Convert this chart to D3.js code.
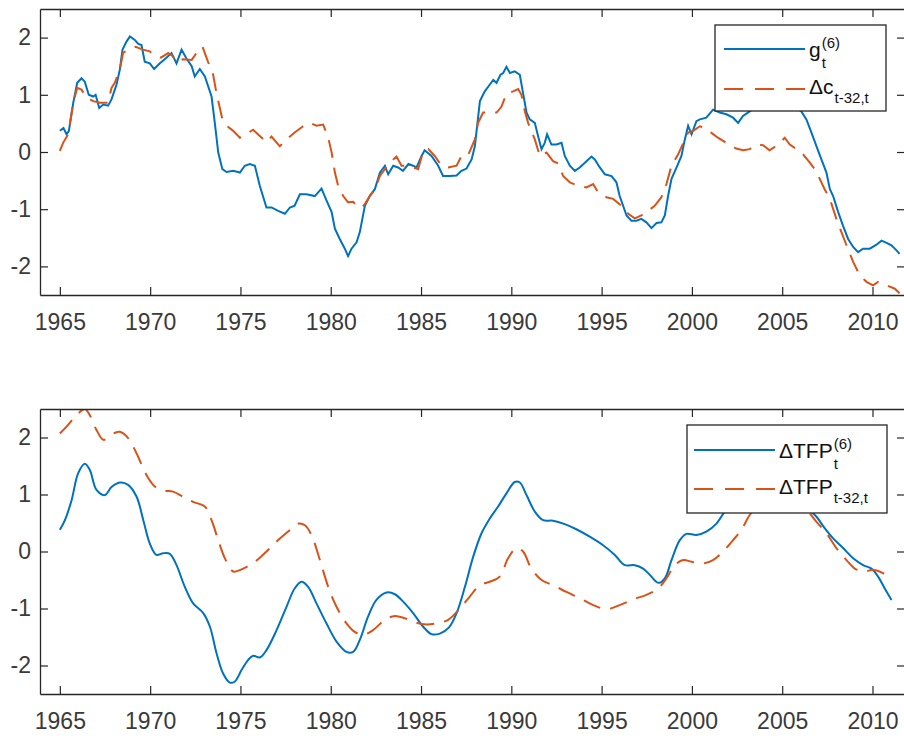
<!DOCTYPE html>
<html>
<head>
<meta charset="utf-8">
<script src="https://cdn.jsdelivr.net/npm/d3@7"></script>
<style>
  body { margin: 0; background: #fff; }
  svg { display: block; font-family: "Liberation Sans", Arial, sans-serif; }
</style>
</head>
<body>
<div id="chart"></div>
<script>
// x ticks (years) and y ticks, shared by both panels
const yearTicks = [1965, 1970, 1975, 1980, 1985, 1990, 1995, 2000, 2005, 2010];
const valueTicks = [-2, -1, 0, 1, 2];

// top panel: g_t^(6) (solid blue)
const gYears = [1965.0,1965.2,1965.37,1965.5,1965.74,1965.96,1966.2,1966.38,1966.6,1966.85,1966.98,1967.18,1967.4,1967.67,1967.86,
  1968.14,1968.32,1968.47,1968.69,1968.88,1969.15,1969.34,1969.52,1969.7,1969.98,1970.22,1970.54,1970.87,1971.18,1971.46,1971.74,
  1972.0,1972.3,1972.47,1972.75,1973.03,1973.4,1973.58,1973.77,1974.0,1974.23,1974.6,1974.97,1975.24,1975.52,1975.8,1976.07,
  1976.44,1976.72,1977.09,1977.46,1977.74,1978.0,1978.29,1978.66,1979.12,1979.49,1979.77,1980.05,1980.23,1980.5,1980.78,1980.96,
  1981.15,1981.43,1981.61,1981.89,1982.16,1982.44,1982.72,1983.0,1983.18,1983.46,1983.73,1984.0,1984.3,1984.56,1984.75,1985.03,
  1985.2,1985.58,1985.95,1986.22,1986.6,1986.97,1987.24,1987.52,1987.8,1987.98,1988.26,1988.53,1988.81,1989.0,1989.18,1989.4,
  1989.55,1989.73,1989.92,1990.19,1990.47,1990.65,1990.84,1991.02,1991.3,1991.48,1991.67,1991.85,1991.98,1992.22,1992.5,1992.78,
  1992.96,1993.24,1993.52,1993.79,1994.16,1994.44,1994.62,1994.9,1995.18,1995.55,1995.82,1996.0,1996.19,1996.38,1996.65,1996.93,
  1997.2,1997.48,1997.76,1998.04,1998.31,1998.5,1998.68,1998.87,1999.15,1999.42,1999.61,1999.79,1999.98,2000.25,2000.44,2000.8,
  2001.17,2001.54,2001.91,2002.28,2002.56,2002.83,2003.2,2003.7,2004.3,2005.0,2005.6,2006.06,2006.34,2006.62,2006.9,2007.17,
  2007.45,2007.64,2007.82,2008.1,2008.37,2008.65,2008.93,2009.2,2009.48,2009.85,2010.22,2010.5,2010.78,2011.05,2011.33,2011.5];
const gVals = [0.37,0.42,0.31,0.37,0.86,1.21,1.29,1.23,1.0,0.97,1.0,0.77,0.83,0.81,0.92,
  1.18,1.44,1.79,1.93,2.02,1.96,1.89,1.87,1.58,1.55,1.45,1.55,1.64,1.73,1.55,1.79,
  1.64,1.50,1.32,1.45,1.32,0.97,0.51,-0.01,-0.30,-0.35,-0.33,-0.36,-0.24,-0.21,-0.24,-0.59,
  -0.97,-0.97,-1.03,-1.08,-0.97,-0.94,-0.74,-0.74,-0.77,-0.64,-0.85,-1.05,-1.34,-1.52,-1.69,-1.82,
  -1.69,-1.58,-1.40,-0.94,-0.77,-0.65,-0.36,-0.24,-0.39,-0.24,-0.27,-0.33,-0.21,-0.24,-0.27,-0.07,
  0.03,-0.07,-0.24,-0.42,-0.42,-0.41,-0.33,-0.29,-0.13,0.10,0.89,1.06,1.18,1.26,1.21,1.35,
  1.38,1.49,1.38,1.41,1.35,1.03,0.69,0.57,0.51,0.28,0.05,0.16,0.31,0.13,0.13,0.16,
  -0.07,-0.24,-0.33,-0.27,-0.16,-0.08,-0.13,-0.27,-0.39,-0.42,-0.53,-0.77,-0.94,-1.11,-1.20,-1.20,
  -1.17,-1.23,-1.33,-1.24,-1.23,-1.11,-0.77,-0.47,-0.27,-0.07,0.22,0.46,0.31,0.54,0.57,0.60,
  0.74,0.69,0.66,0.60,0.51,0.63,0.71,0.82,0.90,0.92,0.82,0.71,0.57,0.34,0.10,-0.13,
  -0.36,-0.65,-0.77,-1.05,-1.29,-1.52,-1.66,-1.75,-1.69,-1.69,-1.62,-1.55,-1.59,-1.63,-1.72,-1.78];

// top panel: delta c_{t-32,t} (dashed orange)
const dcYears = [1965.0,1965.18,1965.46,1965.74,1965.96,1966.2,1966.48,1966.85,1967.21,1967.67,1967.86,1968.04,1968.32,1968.5,
  1968.8,1969.2,1969.6,1969.98,1970.17,1970.6,1971.0,1971.27,1971.46,1971.8,1972.3,1972.56,1972.75,1972.9,1973.2,1973.49,
  1973.67,1973.86,1974.0,1974.23,1974.6,1974.97,1975.06,1975.4,1975.7,1976.07,1976.44,1976.72,1977.18,1977.55,1978.0,1978.47,
  1978.84,1979.21,1979.58,1979.86,1980.05,1980.23,1980.41,1980.69,1980.96,1981.24,1981.43,1981.7,1981.89,1982.16,1982.44,
  1982.72,1983.0,1983.27,1983.64,1983.92,1984.2,1984.56,1984.84,1985.1,1985.4,1985.76,1986.13,1986.5,1986.97,1987.24,1987.6,
  1987.98,1988.16,1988.44,1988.81,1989.18,1989.45,1989.73,1990.1,1990.38,1990.56,1990.75,1990.93,1991.3,1991.58,1991.95,
  1992.31,1992.59,1992.87,1993.24,1993.7,1994.16,1994.53,1994.81,1995.27,1995.64,1996.1,1996.47,1996.84,1997.2,1997.57,
  1997.94,1998.31,1998.59,1998.87,1999.24,1999.52,1999.79,2000.07,2000.44,2000.71,2001.1,2001.44,2001.91,2002.46,2002.83,
  2003.2,2003.57,2003.94,2004.3,2004.77,2005.14,2005.42,2005.79,2006.15,2006.52,2006.8,2007.08,2007.35,2007.64,2008.0,
  2008.28,2008.56,2008.93,2009.3,2009.67,2010.03,2010.31,2010.78,2011.24,2011.5];
const dcVals = [0.02,0.16,0.31,0.86,1.12,1.09,0.95,0.89,0.86,0.86,1.12,1.21,1.44,1.73,
  1.80,1.84,1.79,1.76,1.70,1.65,1.73,1.67,1.57,1.62,1.61,1.73,1.82,1.84,1.58,1.35,
  1.03,0.77,0.57,0.46,0.37,0.25,0.28,0.33,0.39,0.28,0.17,0.27,0.10,0.22,0.34,0.45,
  0.51,0.46,0.48,0.25,-0.01,-0.36,-0.59,-0.77,-0.88,-0.87,-0.94,-0.98,-0.91,-0.77,-0.65,
  -0.42,-0.30,-0.18,-0.08,-0.24,-0.24,-0.27,-0.30,-0.01,0.05,-0.07,-0.24,-0.27,-0.24,-0.07,-0.06,
  0.22,0.51,0.69,0.69,0.69,0.79,1.02,1.06,1.10,1.00,0.71,0.51,0.22,-0.07,-0.01,
  -0.16,-0.20,-0.42,-0.53,-0.59,-0.62,-0.56,-0.71,-0.79,-0.82,-0.94,-1.08,-1.16,-1.11,-1.03,
  -0.94,-0.79,-0.56,-0.24,-0.04,0.16,0.34,0.37,0.45,0.42,0.33,0.25,0.16,0.06,0.03,
  0.05,0.13,0.12,0.03,0.13,0.25,0.13,0.05,-0.04,-0.18,-0.30,-0.47,-0.65,-0.82,-1.17,
  -1.40,-1.63,-1.92,-2.16,-2.27,-2.33,-2.27,-2.33,-2.39,-2.47];

// bottom panel: delta TFP_t^(6) (solid blue)
const tfpYears = [1965.0,1965.28,1965.65,1966.01,1966.38,1966.66,1967.03,1967.49,1967.86,1968.32,1968.78,1969.25,1969.62,
  1969.98,1970.35,1970.72,1971.09,1971.46,1971.92,1972.38,1972.94,1973.31,1973.68,1974.04,1974.41,1974.69,1975.06,1975.43,
  1975.7,1976.07,1976.44,1977.0,1977.55,1978.0,1978.38,1978.75,1979.21,1979.76,1980.32,1980.87,1981.24,1981.61,1982.07,
  1982.53,1983.09,1983.55,1984.01,1984.56,1985.12,1985.58,1986.04,1986.55,1986.97,1987.43,1987.89,1988.35,1988.81,1989.27,
  1989.73,1990.19,1990.47,1990.84,1991.3,1991.76,1992.31,1992.96,1993.6,1994.34,1995.08,1995.73,1996.28,1996.84,1997.3,
  1997.67,1998.13,1998.5,1998.87,1999.33,1999.7,2000.25,2000.8,2001.36,2001.82,2002.4,2003.2,2004.2,2005.2,2006.0,2006.5,
  2006.9,2007.35,2007.82,2008.37,2008.93,2009.48,2009.94,2010.31,2010.68,2011.05];
const tfpVals = [0.38,0.55,0.90,1.37,1.54,1.43,1.08,0.99,1.13,1.21,1.17,0.96,0.55,
  0.14,-0.06,-0.03,-0.04,-0.24,-0.62,-0.91,-1.08,-1.32,-1.79,-2.14,-2.30,-2.28,-2.08,-1.90,
  -1.83,-1.86,-1.73,-1.38,-0.97,-0.65,-0.53,-0.62,-0.91,-1.26,-1.58,-1.76,-1.76,-1.55,-1.14,
  -0.85,-0.72,-0.75,-0.88,-1.08,-1.32,-1.45,-1.44,-1.33,-1.08,-0.62,-0.09,0.32,0.58,0.79,
  1.02,1.22,1.21,0.99,0.70,0.55,0.54,0.48,0.39,0.26,0.11,-0.06,-0.24,-0.24,-0.30,
  -0.41,-0.55,-0.47,-0.15,0.20,0.31,0.29,0.35,0.49,0.70,0.90,1.05,1.10,1.05,0.88,0.73,
  0.61,0.41,0.23,0.06,-0.12,-0.24,-0.30,-0.44,-0.65,-0.85];

// bottom panel: delta TFP_{t-32,t} (dashed orange)
const tfp32Years = [1965.0,1965.37,1965.92,1966.38,1966.66,1967.03,1967.4,1967.67,1968.04,1968.32,1968.78,1969.25,1969.8,
  1970.26,1970.81,1971.27,1971.82,1972.38,1973.03,1973.4,1973.77,1974.14,1974.6,1975.15,1975.8,1976.44,1977.09,1977.64,
  1978.2,1978.57,1978.93,1979.4,1979.86,1980.32,1980.87,1981.33,1981.79,1982.34,1982.99,1983.55,1984.1,1984.75,1985.3,
  1985.85,1986.5,1987.15,1987.7,1988.26,1988.81,1989.36,1989.82,1990.28,1990.65,1991.11,1991.67,1992.31,1993.05,1993.79,
  1994.53,1995.27,1996.0,1996.74,1997.48,1998.13,1998.59,1999.05,1999.52,1999.98,2000.62,2001.17,2001.73,2002.28,2002.74,
  2003.2,2003.8,2004.6,2005.5,2006.0,2006.43,2006.9,2007.45,2008.0,2008.56,2009.02,2009.57,2010.03,2010.58,2011.05];
const tfp32Vals = [2.07,2.19,2.39,2.50,2.39,2.13,1.96,2.00,2.08,2.10,1.99,1.72,1.34,
  1.14,1.07,1.05,0.96,0.87,0.79,0.55,0.20,-0.12,-0.35,-0.30,-0.18,0.0,0.20,0.35,
  0.49,0.46,0.29,-0.15,-0.62,-0.97,-1.26,-1.41,-1.46,-1.38,-1.20,-1.13,-1.17,-1.25,-1.28,
  -1.26,-1.20,-1.00,-0.79,-0.59,-0.53,-0.44,-0.12,0.06,0.0,-0.30,-0.50,-0.59,-0.71,-0.82,
  -0.94,-1.01,-0.94,-0.84,-0.76,-0.65,-0.47,-0.24,-0.15,-0.18,-0.21,-0.15,0.0,0.20,0.38,
  0.64,0.85,0.95,0.90,0.80,0.70,0.52,0.32,0.06,-0.15,-0.30,-0.35,-0.32,-0.38,-0.50];

const blue = '#0072BD';
const orange = '#D95319';
const axisColor = '#262626';

const width = 904, height = 736;
const left = 40, right = 905;

const svg = d3.select('#chart')
  .append('svg')
  .attr('width', width)
  .attr('height', height);

svg.append('rect').attr('width', width).attr('height', height).attr('fill', '#fff');

const x = d3.scaleLinear()
  .domain([1963.9, 2011.8])
  .range([left, right]);

function zip(years, vals) {
  return years.map((yr, i) => ({ year: yr, value: vals[i] }));
}

function drawPanel(opts) {
  const { top, bottom, id, series, curve, legend } = opts;

  const y = d3.scaleLinear()
    .domain([-2.5, 2.5])
    .range([bottom, top]);

  svg.append('clipPath')
    .attr('id', id)
    .append('rect')
    .attr('x', left)
    .attr('y', top)
    .attr('width', right - left)
    .attr('height', bottom - top);

  // lines
  const line = d3.line()
    .x(d => x(d.year))
    .y(d => y(d.value))
    .curve(curve);

  series.forEach(s => {
    svg.append('path')
      .datum(zip(s.years, s.vals))
      .attr('clip-path', `url(#${id})`)
      .attr('fill', 'none')
      .attr('stroke', s.color)
      .attr('stroke-width', 2)
      .attr('stroke-dasharray', s.dashed ? '18,10' : null)
      .attr('d', line);
  });

  // axes (ticks point inward, like MATLAB)
  svg.append('g')
    .attr('transform', `translate(0,${bottom})`)
    .call(d3.axisBottom(x).tickValues(yearTicks).tickFormat(d3.format('d'))
      .tickSizeInner(-8).tickSizeOuter(0).tickPadding(18.7));

  svg.append('g')
    .attr('transform', `translate(0,${top})`)
    .call(d3.axisTop(x).tickValues(yearTicks).tickFormat('')
      .tickSizeInner(-8).tickSizeOuter(0));

  svg.append('g')
    .attr('transform', `translate(${left},0)`)
    .call(d3.axisLeft(y).tickValues(valueTicks).tickFormat(d => String(d))
      .tickSizeInner(-8).tickSizeOuter(0).tickPadding(9));

  svg.append('g')
    .attr('transform', `translate(${right},0)`)
    .call(d3.axisRight(y).tickValues(valueTicks).tickFormat('')
      .tickSizeInner(-8).tickSizeOuter(0));

  svg.selectAll('.domain').attr('stroke', axisColor).attr('stroke-width', 1.3);
  svg.selectAll('.tick line').attr('stroke', axisColor).attr('stroke-width', 1.2);
  svg.selectAll('.tick text')
    .attr('fill', '#3a3a3a')
    .style('font-family', '"Liberation Sans", Arial, sans-serif')
    .style('font-size', '23px');

  // legend
  const lg = svg.append('g');
  lg.append('rect')
    .attr('x', legend.x)
    .attr('y', legend.y)
    .attr('width', legend.w)
    .attr('height', legend.h)
    .attr('fill', '#fff')
    .attr('stroke', axisColor)
    .attr('stroke-width', 1.3);

  legend.rows.forEach(r => {
    lg.append('line')
      .attr('x1', legend.lineX0)
      .attr('x2', legend.lineX1)
      .attr('y1', r.y)
      .attr('y2', r.y)
      .attr('stroke', r.color)
      .attr('stroke-width', 2)
      .attr('stroke-dasharray', r.dashed ? '19,12' : null);

    const main = lg.append('text')
      .attr('x', legend.textX)
      .attr('y', r.y + r.base)
      .attr('fill', '#111')
      .style('font-size', '21px')
      .text(r.main);
    const mw = main.node().getComputedTextLength();

    if (r.sup) {
      lg.append('text')
        .attr('x', legend.textX + mw + 1)
        .attr('y', r.y + r.base - 9)
        .attr('fill', '#111')
        .style('font-size', '15px')
        .text(r.sup);
    }
    if (r.sub) {
      lg.append('text')
        .attr('x', legend.textX + mw + 1)
        .attr('y', r.y + r.base + (r.sup ? 11 : 9))
        .attr('fill', '#111')
        .style('font-size', '15px')
        .text(r.sub);
    }
  });
}

drawPanel({
  top: 9, bottom: 295, id: 'clipTop', curve: d3.curveLinear,
  series: [
    { years: gYears, vals: gVals, color: blue, dashed: false },
    { years: dcYears, vals: dcVals, color: orange, dashed: true }
  ],
  legend: {
    x: 715, y: 25, w: 171, h: 86, lineX0: 724, lineX1: 805, textX: 809,
    rows: [
      { y: 49, base: 8, main: 'g', sup: '(6)', sub: 't', color: blue, dashed: false },
      { y: 89, base: 5, main: '\u0394c', sub: 't-32,t', color: orange, dashed: true }
    ]
  }
});

drawPanel({
  top: 409, bottom: 694, id: 'clipBottom', curve: d3.curveCatmullRom.alpha(0.5),
  series: [
    { years: tfpYears, vals: tfpVals, color: blue, dashed: false },
    { years: tfp32Years, vals: tfp32Vals, color: orange, dashed: true }
  ],
  legend: {
    x: 687, y: 425, w: 200, h: 88, lineX0: 694, lineX1: 775, textX: 779,
    rows: [
      { y: 450, base: 7.5, main: '\u0394TFP', sup: '(6)', sub: 't', color: blue, dashed: false },
      { y: 489, base: 5, main: '\u0394TFP', sub: 't-32,t', color: orange, dashed: true }
    ]
  }
});
</script>
</body>
</html>
